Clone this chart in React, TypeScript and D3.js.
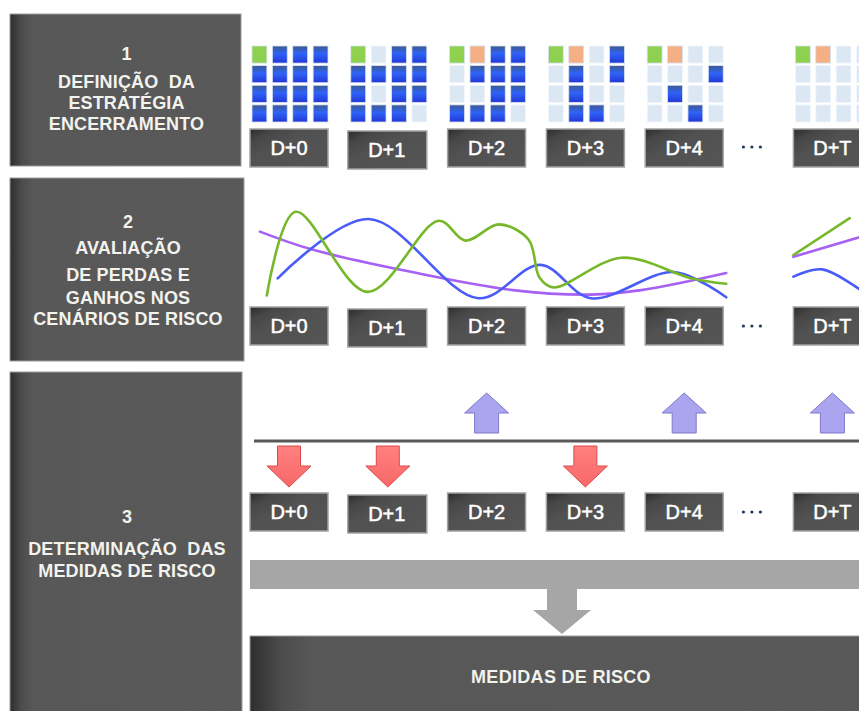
import * as d3 from "d3";
import { useEffect } from "react";

// columns (D+T sits after the "..." gap)
const dayLabels = ["D+0", "D+1", "D+2", "D+3", "D+4", "D+T"];
const daySlots = [0, 1, 2, 3, 4, 5.5];
const dotsSlot = 5.08;

// 1: strategy grids, G=green, O=orange, B=position open, L=closed
const gridStates = [
  ["GBBB", "BBBB", "BBBB", "BBBB"],
  ["GLBB", "BBBB", "BLBB", "BBBL"],
  ["GOBB", "LBBB", "LLBB", "BBBL"],
  ["GOLB", "LBLB", "LBLL", "LBBL"],
  ["GOLL", "LLLB", "LBLL", "LLBL"],
  ["GOLL", "LLLL", "LLLL", "LLLL"],
];

// 2: P&L scenario curves [day, value]
const greenCurve: [number, number][] = [
  [0.17, 5], [0.46, 98], [1.19, 9], [1.91, 88], [2.18, 66], [2.52, 84],
  [2.82, 67], [2.93, 25], [3.07, 14], [3.76, 47], [4.47, 24], [4.82, 18],
];
const blueCurve: [number, number][] = [
  [0.28, 24], [1.2, 90], [2.31, 2], [2.94, 39], [3.45, 2], [4.29, 31], [4.82, 3],
];
const purpleCurve: [number, number][] = [
  [0.1, 76], [0.63, 56], [1.64, 31], [2.66, 11], [3.45, 6], [3.96, 11], [4.82, 30],
];
const greenTail: [number, number][] = [[5.5, 50], [6.07, 91]];
const purpleTail: [number, number][] = [[5.5, 48], [6.18, 70]];
const blueTail: [number, number][] = [[5.5, 26], [5.79, 34], [6.18, 11]];

// 3: risk signal per day (-1 down, 1 up)
const signals = [-1, -1, 1, -1, 1, 1];

const panelTitles = [
  ["1", "DEFINIÇÃO  DA", "ESTRATÉGIA", "ENCERRAMENTO"],
  ["2", "AVALIAÇÃO", "DE PERDAS E", "GANHOS NOS", "CENÁRIOS DE RISCO"],
  ["3", "DETERMINAÇÃO  DAS", "MEDIDAS DE RISCO"],
];
const resultTitle = "MEDIDAS DE RISCO";

const FONT = "'Liberation Sans', Arial, sans-serif";

export default function App() {
  useEffect(() => {
    document.body.style.margin = "0";
  }, []);

  const W = 859;
  const H = 711;

  const x = d3.scaleLinear().domain([0, 1]).range([250, 348.8]);
  const boxW = 78;
  const boxH = 38;

  const cellX = d3.scaleBand<number>().domain([0, 1, 2, 3]).range([2, 78]).paddingInner(0.27);
  const cellY = d3.scaleBand<number>().domain([0, 1, 2, 3]).range([46, 122]).paddingInner(0.13);

  const y = d3.scaleLinear().domain([0, 100]).range([300, 210]);
  const line = d3
    .line<[number, number]>()
    .x((d) => x(d[0]))
    .y((d) => y(d[1]))
    .curve(d3.curveCatmullRom.alpha(0.5));

  const cellFill: Record<string, string> = {
    G: "#8ed04f",
    O: "#f4b084",
    B: "url(#blueCell)",
    L: "#dce7f4",
  };

  const panels = [
    { x: 10, y: 14, w: 231, h: 152, lines: [53, 81, 102, 123] },
    { x: 10, y: 178, w: 234, h: 183, lines: [221, 247, 274, 297, 318] },
    { x: 10, y: 372, w: 232, h: 350, lines: [516, 548, 570] },
  ];

  const rowBoxY = [129, 307, 493];
  const dotsY = [147, 326, 512];

  const upArrow = (cx: number) => {
    const t = 393, m = 413, b = 433;
    return `M${cx},${t} L${cx + 22},${m} L${cx + 12},${m} L${cx + 12},${b} L${cx - 12},${b} L${cx - 12},${m} L${cx - 22},${m} Z`;
  };
  const downArrow = (cx: number) => {
    const t = 446, m = 466, b = 487;
    return `M${cx - 11.5},${t} L${cx + 11.5},${t} L${cx + 11.5},${m} L${cx + 22},${m} L${cx},${b} L${cx - 22},${m} L${cx - 11.5},${m} Z`;
  };

  const labelBox = (i: number, row: number) => {
    const bx = x(daySlots[i]) + (i === 1 ? -1 : 0);
    const by = rowBoxY[row] + (i === 1 ? 2 : 0);
    return (
      <g key={`lb-${row}-${i}`}>
        <rect x={bx} y={by} width={boxW + (i === 1 ? 1 : 0)} height={boxH} fill="url(#boxFill)" stroke="#a3a3a3" strokeWidth={1.5} />
        <text
          x={bx + boxW / 2}
          y={by + boxH / 2 + 7}
          textAnchor="middle"
          fontFamily={FONT}
          fontSize={20}
          fill="#ffffff"
          stroke="#ffffff"
          strokeWidth={0.5}
        >
          {dayLabels[i]}
        </text>
      </g>
    );
  };

  const dots = (row: number) => (
    <g key={`dots-${row}`}>
      {[-8.5, 0, 8.5].map((o) => (
        <circle key={o} cx={x(dotsSlot) + o} cy={dotsY[row]} r={1.6} fill="#1f3864" />
      ))}
    </g>
  );

  return (
    <svg width={W} height={H} style={{ display: "block", background: "#fff" }}>
      <defs>
        <linearGradient id="blueCell" x1="0" y1="0" x2="0" y2="1">
          <stop offset="0" stopColor="#3d5a8e" />
          <stop offset="0.45" stopColor="#2f63f8" />
          <stop offset="1" stopColor="#2237d6" />
        </linearGradient>
        <linearGradient id="panelFill" x1="0" y1="0" x2="1" y2="0">
          <stop offset="0" stopColor="#2e2e2e" />
          <stop offset="0.05" stopColor="#4c4c4c" />
          <stop offset="0.1" stopColor="#585858" />
          <stop offset="1" stopColor="#595959" />
        </linearGradient>
        <linearGradient id="boxFill" x1="0" y1="0" x2="1" y2="1">
          <stop offset="0" stopColor="#2c2c2c" />
          <stop offset="0.18" stopColor="#474747" />
          <stop offset="0.4" stopColor="#515151" />
          <stop offset="1" stopColor="#555555" />
        </linearGradient>
        <linearGradient id="redArrow" x1="0" y1="0" x2="0" y2="1">
          <stop offset="0" stopColor="#ff8080" />
          <stop offset="1" stopColor="#f86868" />
        </linearGradient>
      </defs>

      {/* left step panels */}
      {panels.map((p, i) => (
        <g key={`panel-${i}`}>
          <rect x={p.x} y={p.y} width={p.w} height={p.h} fill="url(#panelFill)" stroke="#9c9c9c" strokeWidth={1} />
          {panelTitles[i].map((t, j) => (
            <text
              key={j}
              x={p.x + p.w / 2 + 1}
              y={p.lines[j] + 6.5}
              textAnchor="middle"
              fontFamily={FONT}
              fontWeight="bold"
              fontSize={18}
              letterSpacing={0.15}
              fill="#f3f3ee"
              style={{ whiteSpace: "pre" }}
            >
              {t}
            </text>
          ))}
        </g>
      ))}

      {/* row 1: position grids */}
      {gridStates.map((rows, i) => (
        <g key={`grid-${i}`} transform={`translate(${x(daySlots[i])},0)`}>
          {rows.map((r, ri) =>
            r.split("").map((c, ci) => (
              <rect
                key={`${ri}-${ci}`}
                x={cellX(ci)}
                y={cellY(ri)}
                width={cellX.bandwidth()}
                height={cellY.bandwidth()}
                fill={cellFill[c]}
                stroke={c === "L" ? "#f4f8fc" : "#d8e2f0"}
                strokeWidth={0.8}
              />
            ))
          )}
        </g>
      ))}
      {dayLabels.map((_, i) => labelBox(i, 0))}
      {dots(0)}

      {/* row 2: scenario curves */}
      <g fill="none" strokeWidth={2.6} strokeLinecap="round">
        <path d={line(purpleCurve) ?? ""} stroke="#a661f2" />
        <path d={line(blueCurve) ?? ""} stroke="#4a5cf8" />
        <path d={line(greenCurve) ?? ""} stroke="#77b82a" />
        <path d={line(purpleTail) ?? ""} stroke="#a661f2" />
        <path d={line(blueTail) ?? ""} stroke="#4a5cf8" />
        <path d={line(greenTail) ?? ""} stroke="#77b82a" />
      </g>
      {dayLabels.map((_, i) => labelBox(i, 1))}
      {dots(1)}

      {/* row 3: risk signals */}
      <line x1={254} x2={W} y1={441} y2={441} stroke="#595959" strokeWidth={3} />
      {signals.map((s, i) => {
        const cx = x(daySlots[i]) + boxW / 2;
        return s > 0 ? (
          <path key={`sig-${i}`} d={upArrow(cx)} fill="#aaa5ee" stroke="#7f79cc" strokeWidth={1} />
        ) : (
          <path key={`sig-${i}`} d={downArrow(cx)} fill="url(#redArrow)" stroke="#dd4a4a" strokeWidth={1} />
        );
      })}
      {dayLabels.map((_, i) => labelBox(i, 2))}
      {dots(2)}

      {/* aggregation bar and result */}
      <rect x={250} y={560} width={W - 250} height={29} fill="#a6a6a6" />
      <path d="M547,589 L577,589 L577,610 L591,610 L562,634 L533,610 L547,610 Z" fill="#a6a6a6" />
      <rect x={250} y={636} width={W - 250 + 20} height={100} fill="url(#panelFill)" stroke="#9c9c9c" strokeWidth={1} />
      <text x={561} y={683} textAnchor="middle" fontFamily={FONT} fontWeight="bold" fontSize={18} letterSpacing={0.3} fill="#f3f3ee">
        {resultTitle}
      </text>
    </svg>
  );
}
